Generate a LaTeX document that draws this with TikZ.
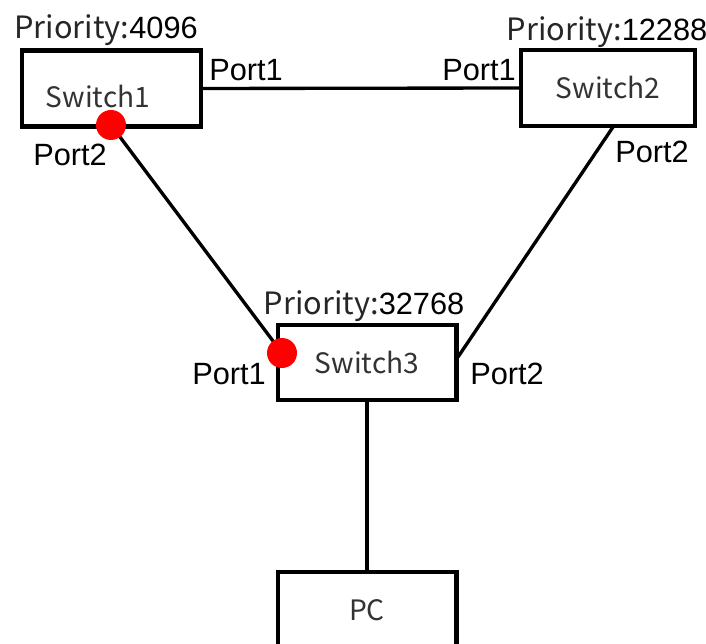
\documentclass[tikz,border=0pt]{standalone}
\usepackage{fontspec}
\setmainfont{Liberation Sans}
\newfontfamily\yahei{Noto Sans CJK SC}
\usepackage{tikz}
\usetikzlibrary{arrows,positioning}

\tikzset{
  switchbox/.style={draw, line width=2.3pt, minimum width=3.58cm, minimum height=1.52cm, inner sep=0pt, font=\yahei\fontsize{16}{16}\selectfont, text=black!80},
  link/.style={line width=1.9pt},
  portdot/.style={circle, fill=red, inner sep=0pt, minimum size=0.6cm},
  portlabel/.style={font=\fontsize{17.5}{17.5}\selectfont, inner sep=0pt},
  prio/.style={font=\fontsize{17.5}{17.5}\selectfont, inner sep=0pt}
}

\begin{document}
\begin{tikzpicture}[x=0.02cm, y=-0.02cm]
\useasboundingbox (0,0) rectangle (706,644);
%%%%% Switches %%%%%
\node[switchbox] (sw1) at (111.5,88.5) {};
\node[font=\yahei\fontsize{16}{16}\selectfont, text=black!80, inner sep=0pt] (sw1txt) at (98,97) {Switch1};
\node[switchbox, minimum width=3.48cm] (sw2) at (608,88) {Switch2};
\node[switchbox, minimum height=1.5cm] (sw3) at (367,362.5) {Switch3};
\node[switchbox, minimum height=1.52cm] (pc) at (367,610) {PC};
%%%%% Priorities %%%%%
\node[prio] (pr1) at (106,30) {{\yahei\color{black!85}Priority:}4096};
\node[prio] (pr2) at (607,32) {{\yahei\color{black!85}Priority:}12288};
\node[prio] (pr3) at (364,306) {{\yahei\color{black!85}Priority:}32768};
%%%%% Links %%%%%
\coordinate (sw1p2) at (111,125);
\coordinate (sw3p1) at (282,353);
\coordinate (sw2p2) at (613,127);
\coordinate (sw3p2) at (458,357);
\draw[link] (sw1.east) -- (sw2.west);
\draw[link] (sw1p2) -- (sw3p1);
\draw[link] (sw2p2) -- (sw3p2);
\draw[link] (sw3.south) -- (pc.north);
\node[portdot] (blk1) at (sw1p2) {};
\node[portdot] (blk3) at (sw3p1) {};
%%%%% Ports %%%%%
\node[portlabel] (l11) at (246,70) {Port1};
\node[portlabel] (l21) at (479,70) {Port1};
\node[portlabel] (l12) at (70,155) {Port2};
\node[portlabel] (l22) at (652,152) {Port2};
\node[portlabel] (l31) at (229,374) {Port1};
\node[portlabel] (l32) at (507,374) {Port2};
\end{tikzpicture}
\end{document}
